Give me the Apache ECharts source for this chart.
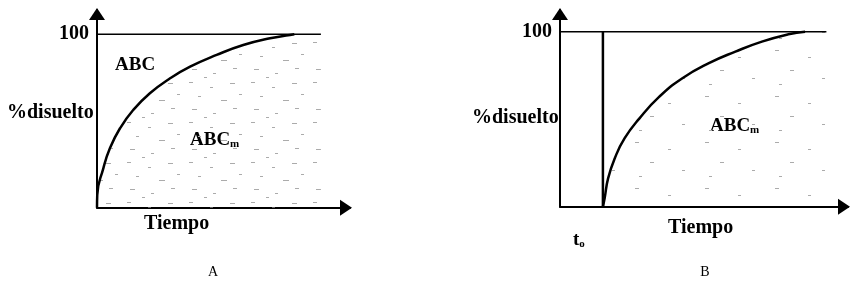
<!DOCTYPE html>
<html>
<head>
<meta charset="utf-8">
<script src="https://cdn.jsdelivr.net/npm/echarts@6/dist/echarts.min.js"></script>
<style>
  html, body { margin: 0; padding: 0; background: #fff; }
  #chart { width: 851px; height: 290px; }
</style>
</head>
<body>
<div id="chart"></div>
<script>
// panel A: dissolution curve starting at t = 0
var timeA = [0, 0.1, 2.5, 5.1, 9.1, 14.3, 20.9, 28.9, 36.8, 47.3, 57.8, 68.4, 76.3, 78];
var valA = [0, 7.3, 22.7, 34.3, 45.8, 56.3, 66, 74.6, 81.3, 88.1, 93.8, 97.7, 99.6, 100];
var plateauA = [0, 88.5];

// panel B: dissolution curve starting at t0
var t0 = 14.9;
var timeB = [14.9, 15.5, 16.7, 19, 22.4, 27.6, 34.5, 42.5, 51.7, 60.9, 70.1, 79.3, 85.1];
var valB = [0, 4.8, 16.2, 27.6, 39, 50.5, 62.9, 73.4, 82, 88.6, 94.3, 98.5, 100];
var plateauB = [0, 92.5];

var yTicks = [100];
var serif = "'Liberation Serif', 'DejaVu Serif', serif";

function pairs(xs, ys) {
    var out = [];
    for (var i = 0; i < xs.length; i++) out.push([xs[i], ys[i]]);
    return out;
}

// stipple texture for the area under the curve
function stipple(w, h, dashes) {
    var c = document.createElement('canvas');
    c.width = w; c.height = h;
    var ctx = c.getContext('2d');
    ctx.fillStyle = '#ababab';
    dashes.forEach(function (d) { ctx.fillRect(d[0], d[1], d[2], 1); });
    return c;
}
var dotsA = stipple(62, 40, [[3, 2, 4], [24, 7, 3], [44, 3, 5], [12, 16, 3], [35, 20, 6], [53, 14, 3], [6, 29, 5], [27, 33, 3], [47, 28, 4], [18, 37, 3]]);
var dotsB = stipple(70, 46, [[5, 4, 4], [38, 11, 3], [20, 24, 4], [52, 32, 3], [9, 38, 3]]);

function axes(idx, yMax) {
    var line = { show: true, lineStyle: { color: '#000', width: 2 }, symbol: ['none', 'triangle'], symbolSize: [16, 12], symbolOffset: [0, -4] };
    return {
        x: {
            type: 'value', gridIndex: idx, min: 0, max: 100, axisLine: line,
            axisTick: { show: false }, axisLabel: { show: false }, splitLine: { show: false }
        },
        y: {
            type: 'value', gridIndex: idx, min: 0, max: yMax, axisLine: line,
            axisTick: { show: false },
            axisLabel: { customValues: yTicks, color: '#000', fontFamily: serif, fontWeight: 'bold', fontSize: 20, margin: 8 },
            splitLine: { show: false }
        }
    };
}
var axA = axes(0, 114), axB = axes(1, 112.4);

function panelSeries(idx, xs, ys, plateau, dots) {
    var curve = pairs(xs, ys);
    var area = curve.concat([[plateau[1], 100]]);
    return [
        { type: 'line', xAxisIndex: idx, yAxisIndex: idx, data: area, symbol: 'none', smooth: 0.5,
          lineStyle: { width: 0 }, areaStyle: { color: { image: dots, repeat: 'repeat' }, opacity: 1 }, silent: true, z: 1 },
        { type: 'line', xAxisIndex: idx, yAxisIndex: idx, data: [[plateau[0], 100], [plateau[1], 100]], symbol: 'none',
          lineStyle: { color: '#000', width: 1.5 }, z: 2 },
        { type: 'line', xAxisIndex: idx, yAxisIndex: idx, data: curve, symbol: 'none', smooth: 0.5,
          lineStyle: { color: '#000', width: 2.5 }, z: 3 }
    ];
}

var series = panelSeries(0, timeA, valA, plateauA, dotsA).concat(panelSeries(1, timeB, valB, plateauB, dotsB));
series.push({ type: 'line', xAxisIndex: 1, yAxisIndex: 1, data: [[t0, 0], [t0, 100]], symbol: 'none',
    lineStyle: { color: '#000', width: 2.5 }, z: 3 });

function label(text, x, y, size, align, weight) {
    return { type: 'text', x: x, y: y, style: { text: text, fill: '#000', font: (weight || 'bold') + ' ' + size + 'px ' + serif,
        align: align || 'left', verticalAlign: 'middle' } };
}
function subLabel(text, x, y) {
    return { type: 'text', x: x, y: y, style: { text: text, fill: '#000', font: 'bold 19px ' + serif, verticalAlign: 'middle',
        rich: { s: { fontFamily: serif, fontWeight: 'bold', fontSize: 11, padding: [9, 0, 0, 0] } } } };
}

var option = {
    animation: false,
    backgroundColor: '#fff',
    grid: [
        { left: 97, right: 501, top: 10, bottom: 82.3, outerBoundsMode: 'none' },
        { left: 560, right: 3, top: 10, bottom: 83.3, outerBoundsMode: 'none' }
    ],
    xAxis: [axA.x, axB.x],
    yAxis: [axA.y, axB.y],
    series: series,
    graphic: [
        label('%disuelto', 7, 113, 20),
        label('ABC', 115, 65, 19),
        subLabel('ABC{s|m}', 190, 140),
        label('Tiempo', 144, 224, 20),
        label('A', 213, 272, 14, 'center', 'normal'),
        label('%disuelto', 472, 118, 20),
        subLabel('ABC{s|m}', 710, 126),
        label('Tiempo', 668, 228, 20),
        subLabel('t{s|o}', 573, 240),
        label('B', 705, 272, 14, 'center', 'normal')
    ]
};

var chart = echarts.init(document.getElementById('chart'));
chart.setOption(option);
</script>
</body>
</html>
